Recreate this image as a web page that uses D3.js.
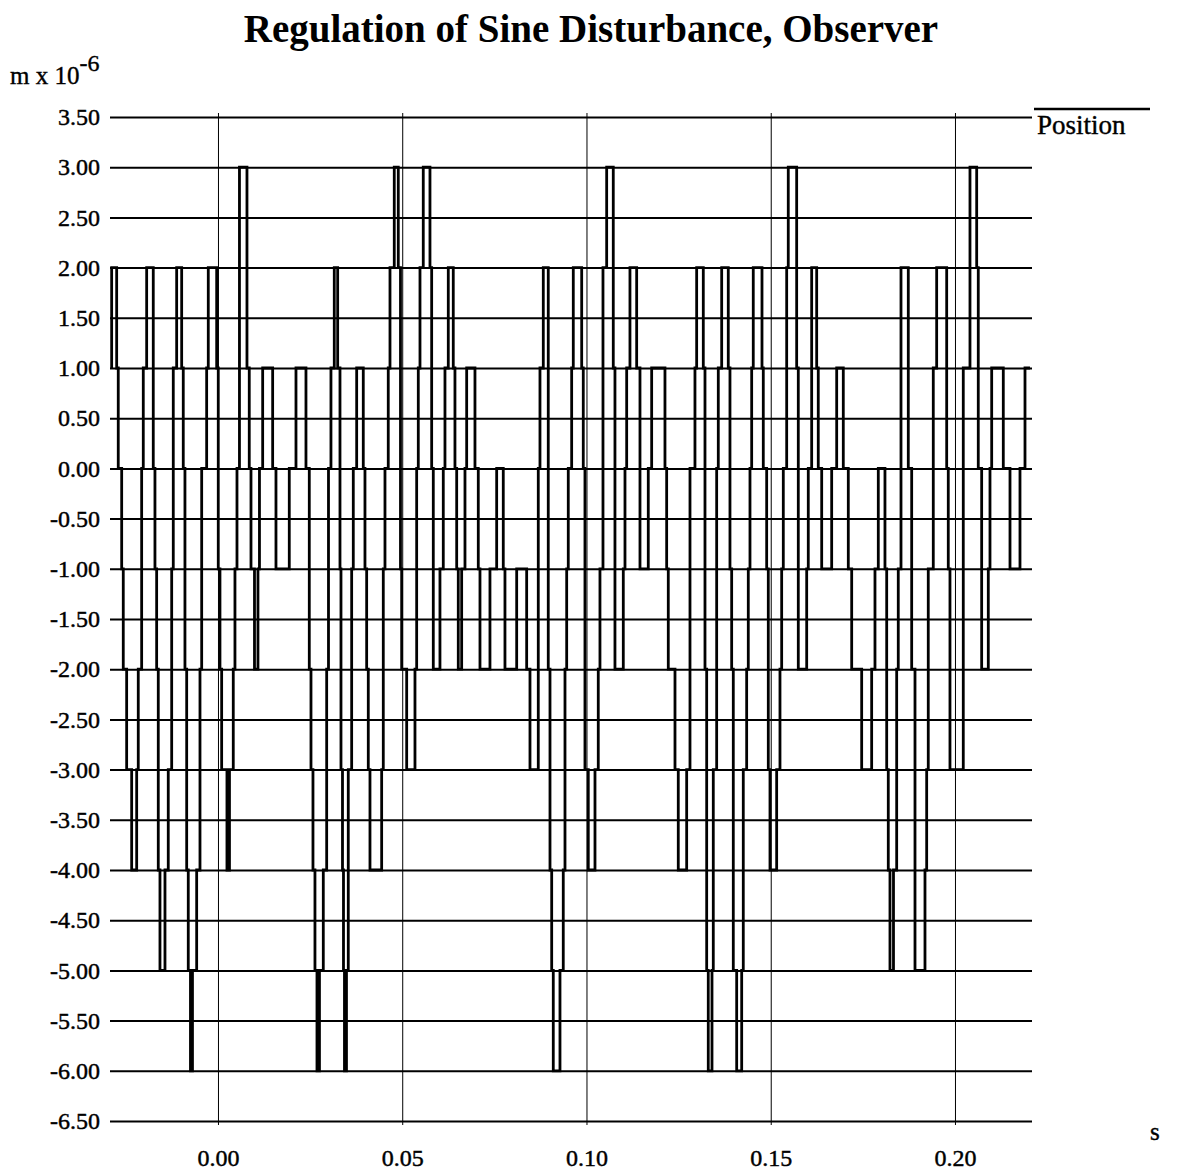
<!DOCTYPE html>
<html>
<head>
<meta charset="utf-8">
<script src="https://cdn.jsdelivr.net/npm/d3@7"></script>
<style>
  html, body { margin: 0; padding: 0; background: #fff; }
  svg { display: block; }
  text { font-family: "Liberation Serif", "Times New Roman", serif; fill: #000; }
</style>
</head>
<body>
<svg id="chart" width="1184" height="1175"></svg>
<script>
// Quantized position response (units of 1e-6 m) at each change, time in ms.
const sampleTimesMs = [
  -28.85, -28.85, -27.49, -27.06, -26.13, -25.70, -24.78, -23.42, -22.06, -21.63,
  -20.71, -20.27, -19.35, -17.56, -17.10, -16.64, -16.20, -15.74, -14.38, -13.49,
  -12.56, -12.13, -11.21, -9.85, -9.42, -8.96, -8.49, -8.06, -7.46, -6.92,
  -5.78, -4.88, -4.42, -3.07, -2.63, -0.35, 0.08, 0.54, 1.00, 2.44,
  3.12, 4.15, 4.61, 5.16, 5.83, 7.87, 8.49, 8.96, 9.91, 10.85,
  11.26, 12.13, 14.84, 15.74, 19.35, 21.17, 23.88, 24.78, 25.24, 25.78,
  26.32, 26.87, 27.54, 28.58, 29.50, 29.99, 30.66, 31.56, 32.48, 33.11,
  33.38, 33.79, 34.06, 34.33, 34.87, 35.36, 36.28, 36.72, 37.64, 39.43,
  39.89, 40.35, 40.79, 41.25, 44.42, 44.86, 45.32, 46.21, 46.68, 47.84,
  48.93, 49.53, 49.85, 51.21, 53.46, 53.92, 54.36, 54.82, 55.71, 57.53,
  57.99, 58.43, 60.24, 61.14, 61.60, 62.50, 63.85, 64.31, 64.78, 65.21,
  66.13, 67.03, 67.49, 69.74, 70.64, 71.10, 73.81, 75.63, 77.42, 77.88,
  81.06, 83.77, 84.67, 86.92, 87.38, 88.28, 89.63, 90.10, 90.56, 90.99,
  92.81, 93.70, 94.17, 94.63, 95.06, 95.98, 96.42, 98.70, 99.13, 99.59,
  100.49, 102.31, 103.20, 103.66, 104.48, 105.48, 107.27, 107.73, 109.99, 110.45,
  110.91, 111.80, 113.62, 114.52, 116.77, 117.69, 121.30, 121.76, 122.20, 124.02,
  124.91, 127.19, 128.09, 129.44, 129.90, 131.70, 132.16, 132.62, 133.05, 134.06,
  134.41, 135.33, 135.77, 136.69, 138.48, 138.94, 139.40, 139.84, 140.76, 142.12,
  142.55, 143.47, 143.91, 144.37, 144.83, 145.26, 147.63, 147.98, 148.90, 149.34,
  149.80, 151.61, 152.51, 152.97, 153.41, 154.33, 154.76, 157.04, 157.48, 159.76,
  160.19, 161.11, 162.47, 162.90, 163.83, 166.54, 167.90, 169.69, 171.05, 171.97,
  174.68, 177.39, 178.29, 179.19, 181.00, 181.47, 181.90, 182.36, 183.31, 184.18,
  184.61, 185.35, 187.33, 188.25, 189.15, 191.86, 192.32, 192.75, 194.11, 195.03,
  197.75, 198.18, 198.64, 202.25, 204.07, 205.89, 206.32, 207.24, 209.04, 209.50,
  209.96, 213.11, 214.93, 217.64, 219.00, 220.35
];
const positionLevels = [
  1, 2, 1, 0, -1, -2, -3, -4, -3, -2,
  0, 1, 2, 0, -1, -2, -4, -5, -4, -3,
  -1, 1, 2, 1, 0, -2, -4, -5, -6, -5,
  -4, -2, 0, 1, 2, 1, -1, -2, -3, -4,
  -3, -2, -1, 0, 3, 1, 0, -1, -2, -1,
  0, 1, 0, -1, 0, 1, 0, -2, -3, -4,
  -5, -6, -5, -4, -2, 0, 1, 2, 1, -1,
  -3, -4, -5, -6, -5, -3, -1, 0, 1, 0,
  -1, -2, -3, -4, -3, -1, 0, 1, 2, 3,
  2, -1, -2, -3, -2, 0, 1, 2, 3, 2,
  0, -2, -1, 0, 1, 2, 1, 0, -1, -2,
  -1, 0, 1, 0, -1, -2, -1, 0, -1, -2,
  -1, -2, -3, 0, 1, 2, -2, -4, -5, -6,
  -5, -4, -2, -1, 0, 1, 2, 1, 0, -3,
  -4, -3, -2, -1, 2, 3, 1, -2, -1, 0,
  1, 2, 1, -1, 0, 1, 0, -1, -2, -3,
  -4, -3, 0, 1, 2, 1, -2, -5, -6, -5,
  -3, 0, 1, 2, 1, -1, -2, -5, -6, -5,
  -3, -2, -1, 0, 1, 2, 1, 0, -1, -3,
  -4, -3, -2, -1, 0, 2, 3, 1, -2, -1,
  0, 2, 1, 0, -1, 0, 1, 0, -1, -2,
  -3, -2, -1, 0, -1, -3, -4, -5, -4, -2,
  -1, 2, 0, -2, -5, -4, -3, -1, 1, 2,
  0, -1, -3, 1, 3, 2, 0, -2, -1, 0,
  1, 0, -1, 0, 1, 1
];

const yTickValues = [3.5, 3, 2.5, 2, 1.5, 1, 0.5, 0, -0.5, -1, -1.5, -2, -2.5, -3,
                     -3.5, -4, -4.5, -5, -5.5, -6, -6.5];
const yTickLabels = ["3.50", "3.00", "2.50", "2.00", "1.50", "1.00", "0.50", "0.00",
                     "-0.50", "-1.00", "-1.50", "-2.00", "-2.50", "-3.00", "-3.50",
                     "-4.00", "-4.50", "-5.00", "-5.50", "-6.00", "-6.50"];
const xTickValues = [0, 0.05, 0.10, 0.15, 0.20];
const xTickLabels = ["0.00", "0.05", "0.10", "0.15", "0.20"];

const titleText = "Regulation of Sine Disturbance, Observer";
const seriesName = "Position";

const svg = d3.select("#chart");
const plotLeft = 110, plotRight = 1032, plotTop = 117, plotBottom = 1121;

const x = d3.scaleLinear().domain([-0.0293, 0.2209]).range([plotLeft, plotRight]);
const y = d3.scaleLinear().domain([-6.5, 3.5]).range([plotBottom, plotTop]);

svg.append("rect").attr("width", 1184).attr("height", 1175).attr("fill", "#fff");

const labelFont = sel => sel
  .style("font-family", "'Liberation Serif', serif")
  .style("font-size", "24px")
  .attr("fill", "#000")
  .attr("stroke", "#000")
  .attr("stroke-width", 0.45);

// Horizontal grid with value labels
const yAxis = d3.axisLeft(y)
  .tickValues(yTickValues)
  .tickFormat((d, i) => yTickLabels[i])
  .tickSize(-(plotRight - plotLeft))
  .tickPadding(10);
const gy = svg.append("g").attr("transform", `translate(${plotLeft},0)`).call(yAxis);
gy.select(".domain").remove();
gy.selectAll(".tick line").attr("stroke", "#000").attr("stroke-width", 2);
gy.selectAll(".tick text").call(labelFont);

// Vertical grid with time labels
const gridExtend = 4;
const xAxis = d3.axisBottom(x)
  .tickValues(xTickValues)
  .tickFormat((d, i) => xTickLabels[i])
  .tickSize(-(plotBottom - plotTop + 2 * gridExtend))
  .tickPadding(24);
const gx = svg.append("g").attr("transform", `translate(0,${plotBottom + gridExtend})`).call(xAxis);
gx.select(".domain").remove();
gx.selectAll(".tick line").attr("stroke", "#000").attr("stroke-width", 1);
gx.selectAll(".tick text").call(labelFont);

// Position trace as a step line
const pts = sampleTimesMs.map((t, i) => [t / 1000, positionLevels[i]]);
const line = d3.line()
  .x(d => x(d[0]))
  .y(d => y(d[1]))
  .curve(d3.curveStepAfter);
svg.append("path")
  .datum(pts)
  .attr("d", line)
  .attr("fill", "none")
  .attr("stroke", "#000")
  .attr("stroke-width", 2.8)
  .attr("stroke-linejoin", "miter");

// Title
svg.append("text")
  .attr("x", 591).attr("y", 42)
  .attr("text-anchor", "middle")
  .style("font-size", "39px").style("font-weight", "bold")
  .text(titleText);

// Unit label
const unit = svg.append("text").attr("x", 10).attr("y", 84)
  .style("font-size", "25px").attr("stroke", "#000").attr("stroke-width", 0.4);
unit.append("tspan").text("m x 10");
unit.append("tspan").attr("dy", -13).style("font-size", "24px").text("-6");

// Time unit
svg.append("text").attr("x", 1150).attr("y", 1140)
  .style("font-size", "25px").attr("stroke", "#000").attr("stroke-width", 0.4).text("s");

// Legend
svg.append("line")
  .attr("x1", 1034).attr("x2", 1150).attr("y1", 109).attr("y2", 109)
  .attr("stroke", "#000").attr("stroke-width", 2.5);
svg.append("text").attr("x", 1037).attr("y", 134)
  .style("font-size", "27px").attr("stroke", "#000").attr("stroke-width", 0.4)
  .text(seriesName);
</script>
</body>
</html>
